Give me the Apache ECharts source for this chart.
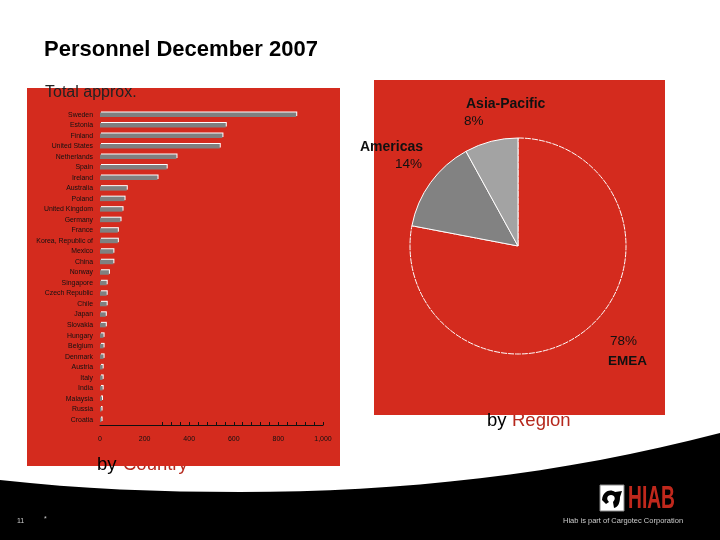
<!DOCTYPE html>
<html>
<head>
<meta charset="utf-8">
<title>Personnel December 2007</title>
<script src="https://cdn.jsdelivr.net/npm/echarts@6/dist/echarts.min.js"></script>
<style>
  html, body { margin: 0; padding: 0; background: #fff; }
  #chart { width: 720px; height: 540px; }
</style>
</head>
<body>
<div id="chart"></div>
<script>
var countries = ['Sweden', 'Estonia', 'Finland', 'United States', 'Netherlands', 'Spain', 'Ireland',
  'Australia', 'Poland', 'United Kingdom', 'Germany', 'France', 'Korea, Republic of', 'Mexico', 'China',
  'Norway', 'Singapore', 'Czech Republic', 'Chile', 'Japan', 'Slovakia', 'Hungary', 'Belgium', 'Denmark',
  'Austria', 'Italy', 'India', 'Malaysia', 'Russia', 'Croatia'];
var headcount = [880, 564, 549, 537, 343, 299, 258, 120, 110, 101, 92, 80, 80, 60, 60,
  40, 30, 30, 30, 26, 26, 16, 16, 16, 12, 12, 12, 9, 7, 7];
var regions = ['EMEA', 'Americas', 'Asia-Pacific'];
var regionShare = [78, 14, 8];
var xLabels = [0, 200, 400, 600, 800, 1000];
// the picture only shows tick marks from 280 upwards
var xTickMarks = [280, 320, 360, 400, 440, 480, 520, 560, 600, 640, 680, 720, 760, 800, 840, 880, 920, 960, 1000];

var RED = '#d42b1e';
var FONT = '"Liberation Sans", Arial, sans-serif';

// decoration shapes, the graphic component has no plain svg path type
echarts.graphic.registerShape('footerCurve', echarts.graphic.extendPath(
  'M0 480 C80 489 160 492 240 492 C400 492 560 475 720 433 L720 540 L0 540 Z', {}));
echarts.graphic.registerShape('ramHead', echarts.graphic.extendPath(
  'M602 500 C603 490 611 489 615 492 L622 491 L620 497 C620 503 618 507 614 508 L613 502 C616 499 615 495 611 495 C607 495 606 499 609 502 L606 504 Z', {}));

function label(text, x, y, size, bold, color, extra) {
  var el = {
    type: 'text', x: x, y: y, z: 50,
    style: {
      text: text, fill: color || '#111', font: (bold ? 'bold ' : '') + size + 'px ' + FONT,
      verticalAlign: 'middle'
    }
  };
  for (var k in (extra || {})) el[k] = extra[k];
  return el;
}

var chart = echarts.init(document.getElementById('chart'), null, { renderer: 'canvas' });

chart.setOption({
  animation: false,
  textStyle: { fontFamily: FONT },
  graphic: { elements: [
    // red panels behind the charts
    { type: 'rect', z: -2, shape: { x: 27, y: 88, width: 313, height: 378 }, style: { fill: RED } },
    { type: 'rect', z: -2, shape: { x: 374, y: 80, width: 291, height: 335 }, style: { fill: RED } },
    // black footer
    { type: 'footerCurve', z: -4, style: { fill: '#000' } },
    label('Personnel December 2007', 44, 50, 22, true, '#000'),
    label('Total approx.', 45, 93, 16, false, '#222'),
    label('by', 97, 465, 18.5, false, '#000'),
    // these two sit under the panels, the panel edge cuts them off
    label('Country', 123, 465, 18.5, false, '#b5281d', { z: -3 }),
    label('by', 487, 421, 18.5, false, '#000'),
    label('Region', 512, 421, 18.5, false, '#b5281d', { z: -3 }),
    label(regions[2], 466, 104, 14, true),
    label(regionShare[2] + '%', 464, 121, 13.5, false),
    label(regions[1], 360, 147, 14, true),
    label(regionShare[1] + '%', 395, 164, 13.5, false),
    label(regionShare[0] + '%', 610, 341, 13.5, false),
    label(regions[0], 608, 361, 13.5, true),
    // footer text and logo
    label('11', 17, 521, 7, false, '#ccc'),
    label('*', 44, 519, 7, false, '#ccc'),
    label('Hiab is part of Cargotec Corporation', 563, 521, 7.5, false, '#ccc'),
    { type: 'rect', z: 50, shape: { x: 600, y: 485, width: 24, height: 26 },
      style: { fill: '#fff', stroke: '#888', lineWidth: 1 } },
    { type: 'ramHead', z: 51, style: { fill: '#000' } },
    label('HIAB', 628, 499, 31, true, '#c0281c', { scaleX: 0.62 })
  ] },
  grid: { left: 100, width: 223, top: 109.5, height: 315.5, containLabel: false },
  xAxis: {
    type: 'value', min: 0, max: 1000, interval: 200,
    splitLine: { show: false },
    axisLine: { show: true, lineStyle: { color: '#111', width: 1 } },
    axisTick: { show: true, inside: true, length: 3, customValues: xTickMarks, lineStyle: { color: '#111' } },
    axisLabel: { color: '#111', fontSize: 7, margin: 11, hideOverlap: false, customValues: xLabels }
  },
  yAxis: {
    type: 'category', data: countries, inverse: true,
    axisLine: { show: false }, axisTick: { show: false },
    axisLabel: { color: '#111', fontSize: 6.9, margin: 7, interval: 0 }
  },
  series: [
    {
      type: 'bar', data: headcount, barWidth: 4.5,
      silent: true,
      // hard white shadow gives the top and right edge the bars have in the picture
      itemStyle: { color: '#808080', shadowColor: '#fff', shadowBlur: 0, shadowOffsetX: 1, shadowOffsetY: -1 }
    },
    {
      type: 'pie', center: [518, 246], radius: 108, startAngle: 90, clockwise: true,
      silent: true, label: { show: false }, labelLine: { show: false },
      data: [
        { name: regions[0], value: regionShare[0],
          itemStyle: { color: RED, borderColor: '#fff', borderWidth: 1, borderType: [6, 1] } },
        { name: regions[1], value: regionShare[1],
          itemStyle: { color: '#828282', borderColor: '#fff', borderWidth: 1 } },
        { name: regions[2], value: regionShare[2],
          itemStyle: { color: '#a3a3a3', borderColor: '#fff', borderWidth: 1 } }
      ]
    }
  ]
});
</script>
</body>
</html>
